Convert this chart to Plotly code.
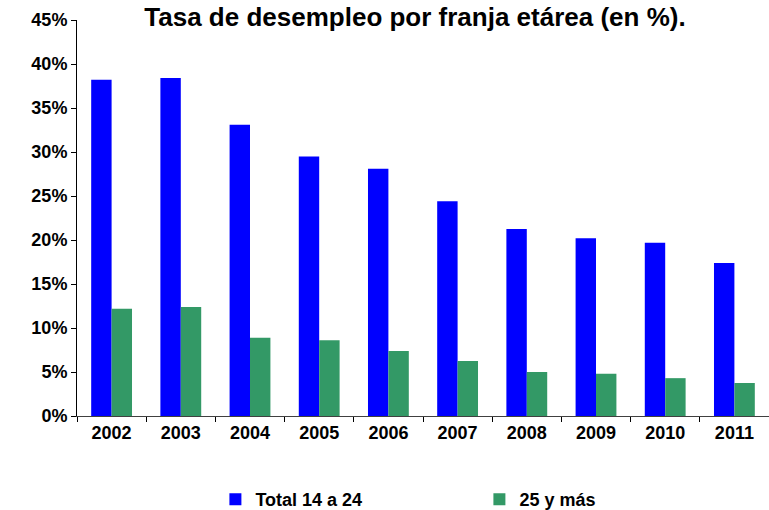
import plotly.graph_objects as go

years = ["2002", "2003", "2004", "2005", "2006", "2007", "2008", "2009", "2010", "2011"]
total_14_24 = [38.2, 38.4, 33.1, 29.5, 28.1, 24.4, 21.25, 20.2, 19.7, 17.4]
mayores_25 = [12.2, 12.4, 8.9, 8.6, 7.4, 6.25, 5.0, 4.8, 4.3, 3.75]
y_ticks = [0, 5, 10, 15, 20, 25, 30, 35, 40, 45]

font_family = "Liberation Sans, Arial, sans-serif"

fig = go.Figure()
fig.add_trace(go.Bar(x=years, y=total_14_24, name="<b>Total 14 a 24</b>",
                     marker=dict(color="#0000FF", line=dict(width=0))))
fig.add_trace(go.Bar(x=years, y=mayores_25, name="<b>25 y más</b>",
                     marker=dict(color="#339966", line=dict(width=0))))

fig.update_layout(
    width=769, height=510,
    margin=dict(l=77, r=0, t=20, b=94, autoexpand=False),
    paper_bgcolor="white", plot_bgcolor="white",
    barmode="group", bargap=0.41, bargroupgap=0,
    font=dict(family=font_family, size=17, color="black"),
    title=dict(text="<b>Tasa de desempleo por franja etárea (en %).</b>",
               x=415 / 769, xref="container", xanchor="center",
               y=1 - 17 / 510, yref="container", yanchor="middle",
               automargin=False,
               font=dict(size=26, family=font_family, color="black")),
    legend=dict(orientation="h", x=0.2, xanchor="left",
                y=(416 - 518) / 396, yanchor="bottom",
                font=dict(size=18, family=font_family, color="black"),
                entrywidth=219, entrywidthmode="pixels",
                itemwidth=30, traceorder="normal"),
    showlegend=True,
)
fig.update_xaxes(
    type="category", showline=True, linecolor="#404040", linewidth=1,
    ticks="outside", tickson="boundaries", ticklen=5, tickcolor="black",
    tickfont=dict(size=18, family=font_family, color="black"),
    tickprefix="<b>", ticksuffix="</b>", showgrid=False, automargin=False,
)
fig.update_yaxes(
    range=[0, 45], tickvals=y_ticks, ticktext=[f"<b>{v}%</b>" for v in y_ticks],
    showline=True, linecolor="black", linewidth=1,
    ticks="outside", ticklen=5, tickcolor="black",
    tickfont=dict(size=18, family=font_family, color="black"),
    showgrid=False, zeroline=False, automargin=False,
)

fig.write_html("out.html", config={"displayModeBar": False},
               post_script="document.body.style.margin='0';document.body.style.overflow='hidden';")
